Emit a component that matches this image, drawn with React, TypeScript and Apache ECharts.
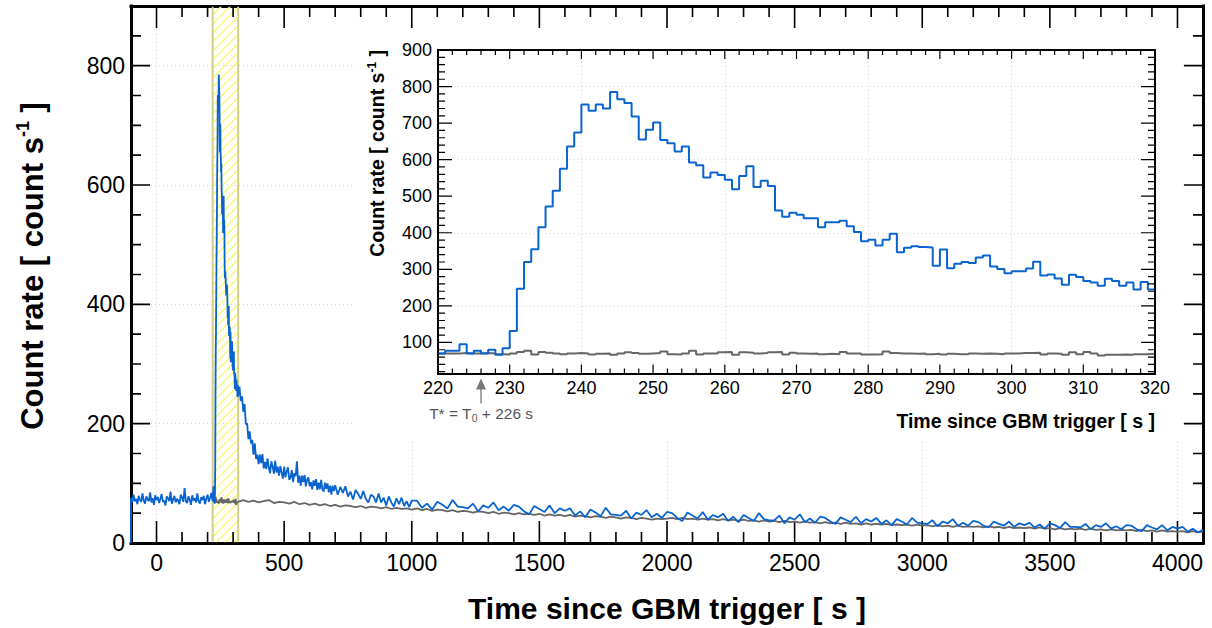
import React, { useEffect, useRef } from 'react';
import * as echarts from 'echarts';

// ---------------- data ----------------
const BAND = [220, 320]; // highlighted window / inset range (s)
const T_STAR = 226; // T* = T0 + 226 s

// blue light curve before the burst, every 5 s from -100 s
const PRE_START = -100;
const PRE_STEP = 5;
const BLUE_PRE = [
  76, 68, 81, 70, 74, 65, 79, 72, 69, 83,
  71, 66, 78, 73, 70, 85, 68, 75, 64, 80,
  72, 77, 67, 74, 82, 69, 71, 63, 78, 75,
  70, 86, 66, 73, 79, 68, 74, 71, 65, 81,
  76, 69, 92, 70, 67, 78, 73, 64, 80, 71,
  75, 68, 83, 70, 66, 77, 72, 79, 65, 74,
  81, 69, 76, 84,
];

// 1-s bins from 220 s to 320 s (inset)
const BIN_START = 220;
const BIN_WIDTH = 1;
const BLUE_BINS = [
  70, 77, 77, 95, 70, 77, 70, 80, 66, 84,
  131, 247, 320, 355, 415, 472, 515, 575, 636, 674,
  751, 734, 751, 740, 785, 765, 755, 718, 655, 682,
  702, 654, 645, 622, 636, 592, 585, 551, 565, 558,
  545, 519, 555, 582, 525, 542, 528, 461, 444, 455,
  449, 440, 440, 415, 429, 429, 433, 418, 402, 377,
  381, 365, 381, 397, 347, 359, 363, 361, 360, 310,
  354, 303, 315, 320, 317, 332, 338, 308, 301, 289,
  295, 295, 302, 321, 283, 286, 275, 258, 285, 279,
  268, 264, 255, 274, 268, 255, 264, 245, 265, 245,
];
const GRAY_BINS = [
  70, 70, 70, 71, 70, 70, 71, 70, 68, 67,
  70, 74, 77, 67, 74, 72, 70, 68, 70, 71,
  70, 67, 69, 70, 66, 70, 73, 71, 69, 70,
  71, 75, 68, 67, 70, 77, 67, 70, 70, 73,
  74, 66, 73, 72, 70, 71, 73, 74, 67, 72,
  70, 69, 70, 68, 69, 68, 74, 70, 70, 67,
  67, 68, 75, 71, 70, 70, 69, 70, 68, 69,
  67, 69, 68, 68, 70, 69, 70, 69, 68, 70,
  70, 71, 71, 72, 67, 70, 69, 66, 73, 68,
  74, 70, 64, 66, 66, 67, 66, 68, 68, 69,
];

// blue decay, every 5 s from 325 s to 700 s
const POST1_START = 325;
const POST1_STEP = 5;
const BLUE_POST1 = [
  262, 238, 246, 220, 233, 199, 200, 174, 187, 167,
  173, 148, 167, 141, 148, 132, 148, 134, 149, 125,
  136, 124, 142, 126, 117, 137, 128, 116, 138, 118,
  128, 113, 129, 118, 108, 128, 110, 120, 127, 106,
  110, 122, 102, 117, 112, 137, 101, 113, 96, 113,
  102, 114, 95, 106, 110, 95, 102, 90, 105, 96,
  107, 89, 101, 90, 106, 90, 86, 101, 91, 100,
  85, 96, 81, 96, 87, 97,
];

// blue decay, every 10 s from 710 s to 1000 s
const POST2_START = 710;
const POST2_STEP = 10;
const BLUE_POST2 = [
  81, 94, 84, 95, 78, 86, 73, 89, 82, 74,
  87, 74, 68, 81, 78, 68, 83, 68, 76, 63,
  78, 68, 61, 75, 65, 76, 62, 70, 60, 71,
];

// blue tail, every 20 s from 1020 s to 4100 s
const POST3_START = 1020;
const POST3_STEP = 20;
const BLUE_POST3 = [
  71, 59, 66, 56, 69, 64, 58, 72, 61, 60,
  58, 66, 53, 63, 59, 68, 55, 61, 54, 64,
  61, 53, 48, 62, 57, 52, 63, 50, 58, 54,
  58, 46, 53, 43, 56, 51, 45, 59, 48, 47,
  46, 54, 41, 51, 47, 55, 43, 49, 42, 52,
  50, 42, 37, 51, 46, 41, 52, 39, 47, 43,
  49, 37, 44, 35, 47, 42, 37, 50, 40, 38,
  38, 46, 33, 43, 39, 48, 35, 41, 34, 44,
  42, 36, 32, 43, 39, 35, 44, 33, 40, 36,
  42, 32, 38, 30, 40, 36, 31, 42, 34, 33,
  32, 38, 28, 36, 33, 40, 29, 34, 29, 37,
  35, 29, 26, 36, 32, 29, 36, 27, 33, 30,
  34, 26, 31, 24, 33, 30, 25, 35, 27, 27,
  26, 32, 23, 30, 27, 33, 24, 28, 23, 30,
  29, 23, 20, 30, 26, 23, 30, 21, 27, 24,
  27, 19, 24, 18, 22,
];

// gray background, every 20 s from 340 s to 4100 s
const GRAY_POST_START = 340;
const GRAY_POST_STEP = 20;
const GRAY_POST = [
  72, 69, 71, 68, 70, 72, 67, 69, 68, 66,
  69, 65, 67, 64, 66, 63, 65, 62, 64, 61,
  63, 62, 60, 62, 59, 61, 60, 58, 60, 57,
  59, 57, 58, 56, 58, 55, 57, 54, 56, 55,
  53, 55, 52, 54, 53, 51, 53, 52, 50, 52,
  49, 51, 50, 48, 50, 48, 49, 47, 49, 46,
  48, 46, 47, 45, 47, 44, 46, 45, 43, 45,
  44, 42, 44, 43, 41, 43, 42, 40, 42, 41,
  39, 41, 40,
  41, 42, 40, 42, 40, 41, 39, 41, 39, 40,
  38, 40, 38, 39, 37, 39, 37, 38, 36, 38,
  36, 37, 35, 37, 35, 36, 34, 36, 34, 35,
  33, 35, 33, 34, 32, 34, 32, 33, 31, 33,
  31, 32, 31, 32, 30, 31, 30, 31, 29, 31,
  29, 30, 28, 30, 28, 29, 27, 29, 27, 28,
  27, 28, 26, 28, 26, 27, 25, 27, 25, 26,
  25, 26, 24, 26, 24, 25, 23, 25, 23, 24,
  23, 24, 22, 24, 22, 23, 21, 23, 21, 22,
  21, 22, 20, 22, 20, 21, 19, 21, 19, 20,
  19, 20, 18, 20, 18, 19,
];

// axes
const MAIN_X_RANGE = [-100, 4100];
const MAIN_Y_RANGE = [0, 900];
const INSET_X_RANGE = [220, 320];
const INSET_Y_RANGE = [15, 900];
const MAIN_X_LABELS = [0, 500, 1000, 1500, 2000, 2500, 3000, 3500, 4000];
const MAIN_Y_LABELS = [0, 200, 400, 600, 800];
const INSET_X_LABELS = [220, 230, 240, 250, 260, 270, 280, 290, 300, 310, 320];
const INSET_Y_LABELS = [100, 200, 300, 400, 500, 600, 700, 800, 900];
const MAIN_X_MINOR_STEP = 100;
const MAIN_Y_MINOR_STEP = 50;
const INSET_X_MINOR_STEP = 2;
const INSET_Y_MINOR_STEP = 20;

const X_TITLE = 'Time since GBM trigger [ s ]';
const Y_TITLE = 'Count rate [ count s{sup|-1} ]';
const T_STAR_LABEL = 'T* = T{sub|0} + 226 s';

// ---------------- layout & styling ----------------
const FONT = "'Liberation Sans', Arial, Helvetica, sans-serif";
const BLUE = '#0a64d0';
const GRAY = '#666666';
const MAIN_BOX = { left: 131, top: 6, width: 1072, height: 537 };
const INSET_BOX = { left: 438, top: 50, width: 717, height: 323.5 };

function seq(a: number, b: number, step: number) {
  const r: number[] = [];
  for (let v = a; v <= b + 1e-9; v += step) r.push(Math.round(v * 1000) / 1000);
  return r;
}
function sampled(start: number, step: number, values: number[]) {
  return values.map((v, i) => [start + i * step, v]);
}
// merge major and minor tick values into sorted [value, length] pairs
function tickList(maj: number[], min: number[], lMaj: number, lMin: number) {
  const m = new Map<number, number>();
  for (const v of min) m.set(v, lMin);
  for (const v of maj) m.set(v, lMaj);
  return Array.from(m.entries()).sort((a, b) => a[0] - b[0]);
}

// the frame of a panel drawn as four polylines that carry the tick marks (positions via api.coord)
function framePolylines(api: any, xr: number[], yr: number[], xT: number[][], yT: number[][], w: number) {
  const bottom: number[][] = [];
  const top: number[][] = [];
  const left: number[][] = [];
  const right: number[][] = [];
  const bl = api.coord([xr[0], yr[0]]);
  const br = api.coord([xr[1], yr[0]]);
  const tl = api.coord([xr[0], yr[1]]);
  const tr = api.coord([xr[1], yr[1]]);
  bottom.push([bl[0], bl[1]]);
  top.push([tl[0], tl[1]]);
  for (const [v, len] of xT) {
    const b = api.coord([v, yr[0]]);
    const t = api.coord([v, yr[1]]);
    bottom.push([b[0], b[1]], [b[0], b[1] - len], [b[0], b[1]]);
    top.push([t[0], t[1]], [t[0], t[1] + len], [t[0], t[1]]);
  }
  bottom.push([br[0], br[1]]);
  top.push([tr[0], tr[1]]);
  left.push([bl[0], bl[1]]);
  right.push([br[0], br[1]]);
  for (const [v, len] of yT) {
    const l = api.coord([xr[0], v]);
    const r = api.coord([xr[1], v]);
    left.push([l[0], l[1]], [l[0] + len, l[1]], [l[0], l[1]]);
    right.push([r[0], r[1]], [r[0] - len, r[1]], [r[0], r[1]]);
  }
  left.push([tl[0], tl[1]]);
  right.push([tr[0], tr[1]]);
  return [bottom, top, left, right].map((points) => ({
    type: 'polyline',
    shape: { points },
    style: { stroke: '#000000', lineWidth: w, fill: 'none' },
  }));
}

function ax(o: any) {
  return {
    type: 'value',
    gridIndex: o.grid,
    position: o.pos,
    min: o.range[0],
    max: o.range[1],
    z: o.z,
    silent: true,
    axisLine: { show: true, onZero: false, lineStyle: { color: '#000', width: o.line, cap: 'square' } },
    axisTick: { show: false },
    axisLabel: o.labels
      ? {
          show: true, customValues: o.labels, color: '#000', fontFamily: FONT, fontSize: o.fs, margin: o.margin,
          formatter: (v: number) => String(v),
        }
      : { show: false },
    splitLine: o.split ? { show: true, lineStyle: { color: '#d4d4d4', type: [1, 3], width: 1 } } : { show: false },
    minorTick: { show: false },
    minorSplitLine: { show: false },
  };
}

export default function App() {
  const ref = useRef<HTMLDivElement>(null);

  useEffect(() => {
    if (!ref.current) return;
    const chart = echarts.init(ref.current, undefined, { renderer: 'svg' });

    const mainBlue = [
      [PRE_START, 0],
      ...sampled(PRE_START, PRE_STEP, BLUE_PRE),
      ...sampled(BIN_START, BIN_WIDTH, BLUE_BINS),
      ...sampled(POST1_START, POST1_STEP, BLUE_POST1),
      ...sampled(POST2_START, POST2_STEP, BLUE_POST2),
      ...sampled(POST3_START, POST3_STEP, BLUE_POST3),
    ];
    const mainGray = [
      ...sampled(BIN_START, BIN_WIDTH, GRAY_BINS),
      ...sampled(GRAY_POST_START, GRAY_POST_STEP, GRAY_POST),
    ];
    const binEnd = BIN_START + BLUE_BINS.length * BIN_WIDTH;
    const insetBlue = [...sampled(BIN_START, BIN_WIDTH, BLUE_BINS), [binEnd, BLUE_BINS[BLUE_BINS.length - 1]]];
    const insetGray = [...sampled(BIN_START, BIN_WIDTH, GRAY_BINS), [binEnd, GRAY_BINS[GRAY_BINS.length - 1]]];

    const mainXT = tickList(MAIN_X_LABELS, seq(MAIN_X_RANGE[0], MAIN_X_RANGE[1], MAIN_X_MINOR_STEP), 22, 11);
    const mainYT = tickList(MAIN_Y_LABELS, seq(MAIN_Y_RANGE[0], MAIN_Y_RANGE[1], MAIN_Y_MINOR_STEP), 19, 10);
    const insetXT = tickList(INSET_X_LABELS, seq(INSET_X_RANGE[0], INSET_X_RANGE[1], INSET_X_MINOR_STEP), 9, 5);
    const insetYT = tickList(INSET_Y_LABELS, seq(20, INSET_Y_RANGE[1], INSET_Y_MINOR_STEP), 14, 7);

    const option: any = {
      animation: false,
      backgroundColor: '#ffffff',
      grid: [
        { ...MAIN_BOX, containLabel: false, outerBoundsMode: 'none' },
        { ...INSET_BOX, containLabel: false, outerBoundsMode: 'none' },
      ],
      xAxis: [
        ax({ grid: 0, pos: 'bottom', range: MAIN_X_RANGE, z: 0, line: 3, labels: MAIN_X_LABELS, fs: 23, margin: 8, split: true }),
        ax({ grid: 0, pos: 'top', range: MAIN_X_RANGE, z: 0, line: 3 }),
        ax({ grid: 1, pos: 'bottom', range: INSET_X_RANGE, z: 5, line: 2, labels: INSET_X_LABELS, fs: 18, margin: 5, split: true }),
        ax({ grid: 1, pos: 'top', range: INSET_X_RANGE, z: 5, line: 2 }),
      ],
      yAxis: [
        ax({ grid: 0, pos: 'left', range: MAIN_Y_RANGE, z: 0, line: 3, labels: MAIN_Y_LABELS, fs: 23, margin: 6, split: true }),
        ax({ grid: 0, pos: 'right', range: MAIN_Y_RANGE, z: 0, line: 3 }),
        ax({ grid: 1, pos: 'left', range: INSET_Y_RANGE, z: 5, line: 2, labels: INSET_Y_LABELS, fs: 18, margin: 6, split: true }),
        ax({ grid: 1, pos: 'right', range: INSET_Y_RANGE, z: 5, line: 2 }),
      ],
      graphic: [
        { type: 'rect', z: 1, silent: true, shape: { x: 352, y: 30, width: 828, height: 410 }, style: { fill: '#ffffff' } },
        {
          type: 'text', z: 1, x: 667, y: 608, silent: true,
          style: { text: X_TITLE, fontSize: 30, fontWeight: 'bold', fontFamily: FONT, fill: '#000', align: 'center', verticalAlign: 'middle' },
        },
        {
          type: 'text', z: 1, x: 32, y: 266, rotation: Math.PI / 2, silent: true,
          style: {
            text: Y_TITLE, fontSize: 31, fontWeight: 'bold', fontFamily: FONT, fill: '#000', align: 'center', verticalAlign: 'middle',
            rich: { sup: { fontSize: 18, fontWeight: 'bold', fontFamily: FONT, fill: '#000', verticalAlign: 'bottom', padding: [0, 0, 18, 0] } },
          },
        },
        {
          type: 'text', z: 6, x: 1155, y: 421, silent: true,
          style: { text: X_TITLE, fontSize: 19.5, fontWeight: 'bold', fontFamily: FONT, fill: '#000', align: 'right', verticalAlign: 'middle' },
        },
        {
          type: 'text', z: 6, x: 377, y: 50, rotation: Math.PI / 2, silent: true,
          style: {
            text: Y_TITLE, fontSize: 19.5, fontWeight: 'bold', fontFamily: FONT, fill: '#000', align: 'right', verticalAlign: 'middle',
            rich: { sup: { fontSize: 12, fontWeight: 'bold', fontFamily: FONT, fill: '#000', verticalAlign: 'bottom', padding: [0, 0, 11, 0] } },
          },
        },
      ],
      series: [
        {
          type: 'custom', name: 'band', xAxisIndex: 0, yAxisIndex: 0, z: 1, silent: true, clip: false,
          data: [[BAND[0], BAND[1]]],
          renderItem: (params: any, api: any) => {
            const tl = api.coord([api.value(0), MAIN_Y_RANGE[1]]);
            const br = api.coord([api.value(1), MAIN_Y_RANGE[0]]);
            const x0 = tl[0], y0 = tl[1], x1 = br[0], y1 = br[1];
            const children: any[] = [];
            const sp = 9;
            for (let c = x0 + y0; c <= x1 + y1; c += sp) {
              const sx = Math.max(x0, c - y1);
              const ex = Math.min(x1, c - y0);
              if (ex > sx) {
                children.push({ type: 'line', shape: { x1: sx, y1: c - sx, x2: ex, y2: c - ex }, style: { stroke: '#fbf77e', lineWidth: 1.5 } });
              }
            }
            children.push({ type: 'line', shape: { x1: x0, y1: y0, x2: x0, y2: y1 }, style: { stroke: '#d3cd8c', lineWidth: 2 } });
            children.push({ type: 'line', shape: { x1: x1, y1: y0, x2: x1, y2: y1 }, style: { stroke: '#d3cd8c', lineWidth: 2 } });
            const frame = framePolylines(api, MAIN_X_RANGE, MAIN_Y_RANGE, mainXT, mainYT, 1.6);
            return { type: 'group', children: children.concat(frame) };
          },
        },
        {
          type: 'line', name: 'background', xAxisIndex: 0, yAxisIndex: 0, z: 2, silent: true,
          data: mainGray, symbol: 'none', showSymbol: false, lineStyle: { color: GRAY, width: 1.8 },
        },
        {
          type: 'line', name: 'light curve', xAxisIndex: 0, yAxisIndex: 0, z: 3, silent: true,
          data: mainBlue, symbol: 'none', showSymbol: false, lineStyle: { color: BLUE, width: 1.8 },
        },
        {
          type: 'line', name: 'background (inset)', xAxisIndex: 2, yAxisIndex: 2, z: 6, silent: true, step: 'end',
          data: insetGray, symbol: 'none', showSymbol: false, lineStyle: { color: GRAY, width: 2 },
        },
        {
          type: 'line', name: 'light curve (inset)', xAxisIndex: 2, yAxisIndex: 2, z: 7, silent: true, step: 'end',
          data: insetBlue, symbol: 'none', showSymbol: false, lineStyle: { color: BLUE, width: 2 },
        },
        {
          type: 'custom', name: 'tstar', xAxisIndex: 2, yAxisIndex: 2, z: 8, silent: true, clip: false,
          data: [[T_STAR, INSET_Y_RANGE[0]]],
          renderItem: (params: any, api: any) => {
            const p = api.coord([api.value(0), api.value(1)]);
            const x = p[0], y = p[1];
            const frame = framePolylines(api, INSET_X_RANGE, INSET_Y_RANGE, insetXT, insetYT, 1.2);
            const children: any[] = [
              { type: 'line', shape: { x1: x, y1: y + 14, x2: x, y2: y + 30 }, style: { stroke: '#777', lineWidth: 1.3 } },
              { type: 'polygon', shape: { points: [[x, y + 5], [x - 5, y + 16], [x + 5, y + 16]] }, style: { fill: '#777' } },
              {
                type: 'text', x: x, y: y + 40,
                style: {
                  text: T_STAR_LABEL, fontSize: 15.5, fontFamily: FONT, fill: '#555', align: 'center', verticalAlign: 'middle',
                  rich: { sub: { fontSize: 10.5, fontFamily: FONT, fill: '#555', verticalAlign: 'bottom', padding: [9, 0, 0, 0] } },
                },
              },
            ];
            return { type: 'group', children: children.concat(frame) };
          },
        },
      ],
    };

    chart.setOption(option);
    return () => chart.dispose();
  }, []);

  return <div ref={ref} style={{ position: 'fixed', left: 0, top: 0, width: 1212, height: 628, background: '#fff' }} />;
}
